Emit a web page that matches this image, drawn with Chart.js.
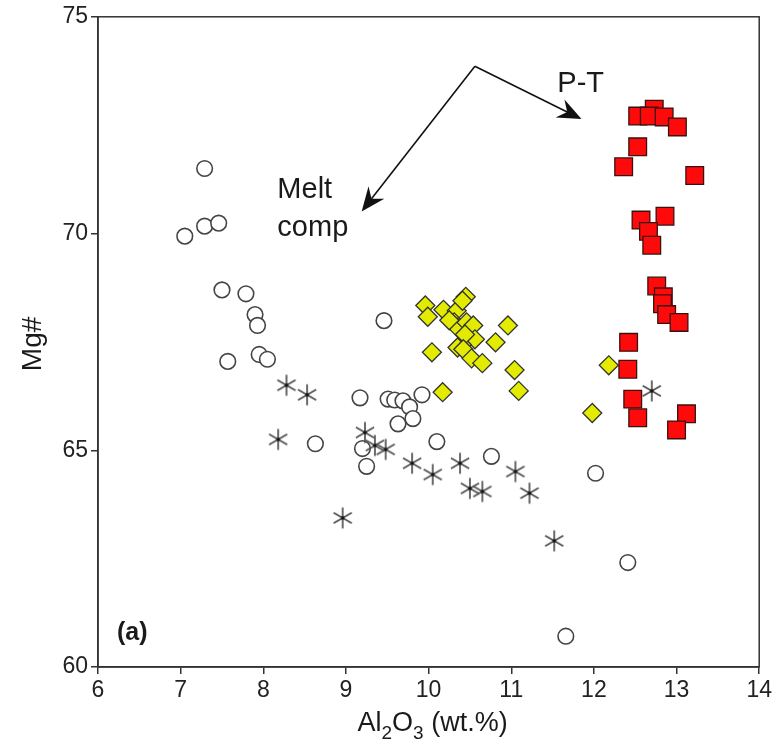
<!DOCTYPE html>
<html><head><meta charset="utf-8">
<script src="https://cdn.jsdelivr.net/npm/chart.js@4.4.1/dist/chart.umd.min.js"></script>
<style>html,body{margin:0;padding:0;background:#fff}#wrap{width:775px;height:749px;position:relative}</style>
</head><body><div id="wrap"><canvas id="c"></canvas></div>
<script>
// ---- data (Al2O3 wt.%, Mg#) ----
const circleAl = [7.29,7.05,7.29,7.46,7.50,7.79,7.90,7.93,7.57,7.95,8.05,8.63,9.17,9.46,9.51,9.59,9.69,9.77,9.92,9.63,9.81,9.20,9.25,10.10,10.76,12.02,12.41,11.66];
const circleMg = [71.50,69.94,70.17,70.24,68.70,68.61,68.13,67.88,67.05,67.21,67.10,65.15,66.21,67.99,66.18,66.16,66.14,66.00,66.28,65.61,65.73,65.04,64.63,65.20,64.86,64.47,62.41,60.71];

const starAl = [8.28,8.53,8.18,9.23,9.35,9.48,9.80,10.05,10.38,10.50,10.65,11.05,11.22,8.96,11.52,12.70];
const starMg = [66.50,66.28,65.25,65.41,65.11,65.02,64.70,64.44,64.70,64.12,64.05,64.51,64.01,63.44,62.91,66.37];

const diamondAl = [9.96,9.99,10.18,10.34,10.45,10.41,10.31,10.35,10.46,10.54,10.56,10.40,10.25,10.44,10.35,10.42,10.52,10.65,10.81,10.96,10.04,10.17,11.04,11.09,12.18,11.98];
const diamondMg = [68.34,68.08,68.24,68.22,68.54,68.45,67.95,67.83,67.95,67.88,67.56,67.44,68.00,67.67,67.37,67.33,67.12,67.01,67.49,67.88,67.26,66.34,66.85,66.37,66.96,65.86];

const squareAl = [12.53,12.73,12.67,12.85,13.01,12.53,12.36,13.22,12.86,12.57,12.66,12.70,12.76,12.84,12.83,12.88,13.03,12.42,12.41,12.47,12.53,13.12,13.00];
const squareMg = [72.71,72.87,72.71,72.69,72.46,72.00,71.54,71.34,70.40,70.31,70.05,69.73,68.79,68.54,68.38,68.13,67.95,67.49,66.87,66.18,65.75,65.84,65.47];

const xTicks = [6,7,8,9,10,11,12,13,14];
const yTicks = [60,65,70,75];

// annotation arrows: shared start, two ends (data coords)
const arrowStart = [10.56, 73.86];
const arrowEnds = [[11.85, 72.64],[9.19, 70.51]];
const notes = [
  {text:'P-T', x:11.84, y:73.26, align:'center'},
  {text:'Melt', x:8.17, y:70.81, align:'left'},
  {text:'comp', x:8.17, y:69.94, align:'left'}
];

const pts = (xs, ys) => xs.map((v,i)=>({x:v, y:ys[i]}));
const FONT = "'Liberation Sans', Arial, Helvetica, sans-serif";

// asterisk point style
const ast = document.createElement('canvas');
ast.width = 24; ast.height = 24;
(function(){
  const g = ast.getContext('2d');
  g.strokeStyle = '#505050'; g.lineWidth = 1.7; g.lineCap = 'butt';
  const c = 12, r = 10.5;
  for (const a of [90, 30, 150]) {
    const t = a*Math.PI/180;
    g.beginPath();
    g.moveTo(c - r*Math.cos(t), c - r*Math.sin(t));
    g.lineTo(c + r*Math.cos(t), c + r*Math.sin(t));
    g.stroke();
  }
  g.fillStyle = '#111'; g.fillRect(c-1.5, c-1.5, 3, 3);
})();

const decor = {
  id: 'decor',
  afterDraw(chart) {
    const {ctx, chartArea: a, scales: {x, y}} = chart;
    ctx.save();
    // frame
    ctx.strokeStyle = '#333'; ctx.lineWidth = 1.5;
    ctx.strokeRect(a.left, a.top, a.right - a.left, a.bottom - a.top);
    // arrows
    const sx = x.getPixelForValue(arrowStart[0]), sy = y.getPixelForValue(arrowStart[1]);
    ctx.strokeStyle = '#111'; ctx.fillStyle = '#111'; ctx.lineWidth = 1.6;
    for (const e of arrowEnds) {
      const ex = x.getPixelForValue(e[0]), ey = y.getPixelForValue(e[1]);
      const ang = Math.atan2(ey - sy, ex - sx);
      const L = 24, W = 10, notch = 16;
      const bx = ex - notch*Math.cos(ang), by = ey - notch*Math.sin(ang);
      ctx.beginPath(); ctx.moveTo(sx, sy); ctx.lineTo(bx, by); ctx.stroke();
      const px = ex - L*Math.cos(ang), py = ey - L*Math.sin(ang);
      ctx.beginPath();
      ctx.moveTo(ex, ey);
      ctx.lineTo(px - W*Math.sin(ang), py + W*Math.cos(ang));
      ctx.lineTo(bx, by);
      ctx.lineTo(px + W*Math.sin(ang), py - W*Math.cos(ang));
      ctx.closePath(); ctx.fill();
    }
    // notes
    ctx.fillStyle = '#1a1a1a';
    ctx.font = `29px ${FONT}`; ctx.textBaseline = 'alphabetic';
    for (const n of notes) {
      ctx.textAlign = n.align;
      ctx.fillText(n.text, x.getPixelForValue(n.x), y.getPixelForValue(n.y));
    }
    // panel label
    ctx.font = `bold 25px ${FONT}`; ctx.textAlign = 'left';
    ctx.fillText('(a)', a.left + 19, a.bottom - 27);
    // y title
    ctx.save();
    ctx.translate(41, (a.top + a.bottom)/2 + 2);
    ctx.rotate(-Math.PI/2);
    ctx.font = `28px ${FONT}`; ctx.textAlign = 'center';
    ctx.fillText('Mg#', 0, 0);
    ctx.restore();
    // x title with subscripts
    const parts = [['Al',0],['2',1],['O',0],['3',1],[' (wt.%)',0]];
    const big = `27px ${FONT}`, small = `19px ${FONT}`;
    let total = 0;
    for (const [t,s] of parts) { ctx.font = s ? small : big; total += ctx.measureText(t).width; }
    let cx = (a.left + a.right)/2 - total/2 + 4;
    const base = 731;
    ctx.textAlign = 'left';
    for (const [t,s] of parts) {
      ctx.font = s ? small : big;
      ctx.fillText(t, cx, s ? base + 8 : base);
      cx += ctx.measureText(t).width;
    }
    ctx.restore();
  }
};

new Chart(document.getElementById('c'), {
  type: 'scatter',
  data: {
    datasets: [
      {label:'circles', data: pts(circleAl, circleMg), pointStyle:'circle', pointRadius:7.8,
       backgroundColor:'#ffffff', borderColor:'#444', borderWidth:1.6, order:4},
      {label:'asterisks', data: pts(starAl, starMg), pointStyle: ast, pointRadius:10,
       backgroundColor:'#505050', borderColor:'#505050', order:3},
      {label:'diamonds', data: pts(diamondAl, diamondMg), pointStyle:'rectRot', pointRadius:9.5,
       backgroundColor:'#e3ec00', borderColor:'#333', borderWidth:1.3, order:2},
      {label:'squares', data: pts(squareAl, squareMg), pointStyle:'rect', pointRadius:12.5,
       backgroundColor:'#ff0a0a', borderColor:'#3a1010', borderWidth:1.3, order:1}
    ]
  },
  options: {
    responsive: true, maintainAspectRatio: false, animation: false, devicePixelRatio: 1,
    layout: {padding: {top: 12, right: 13, left: 0, bottom: 0}},
    plugins: {legend: {display:false}, tooltip: {enabled:false}},
    scales: {
      x: {
        type:'linear', min: xTicks[0], max: xTicks[xTicks.length-1],
        afterBuildTicks: s => { s.ticks = xTicks.map(v=>({value:v})); },
        ticks: {font:{size:23, family:FONT}, color:'#222', padding:3, maxRotation:0},
        grid: {drawOnChartArea:false, tickLength:7, color:'#333', lineWidth:1.5},
        border: {color:'#333', width:1.5},
        afterFit: s => { s.height = 82; }
      },
      y: {
        type:'linear', min: yTicks[0], max: yTicks[yTicks.length-1],
        afterBuildTicks: s => { s.ticks = yTicks.map(v=>({value:v})); },
        ticks: {font:{size:23, family:FONT}, color:'#222', padding:3},
        grid: {drawOnChartArea:false, tickLength:7, color:'#333', lineWidth:1.5},
        border: {color:'#333', width:1.5},
        afterFit: s => { s.width = 98; }
      }
    }
  },
  plugins: [decor]
});
</script></body></html>
